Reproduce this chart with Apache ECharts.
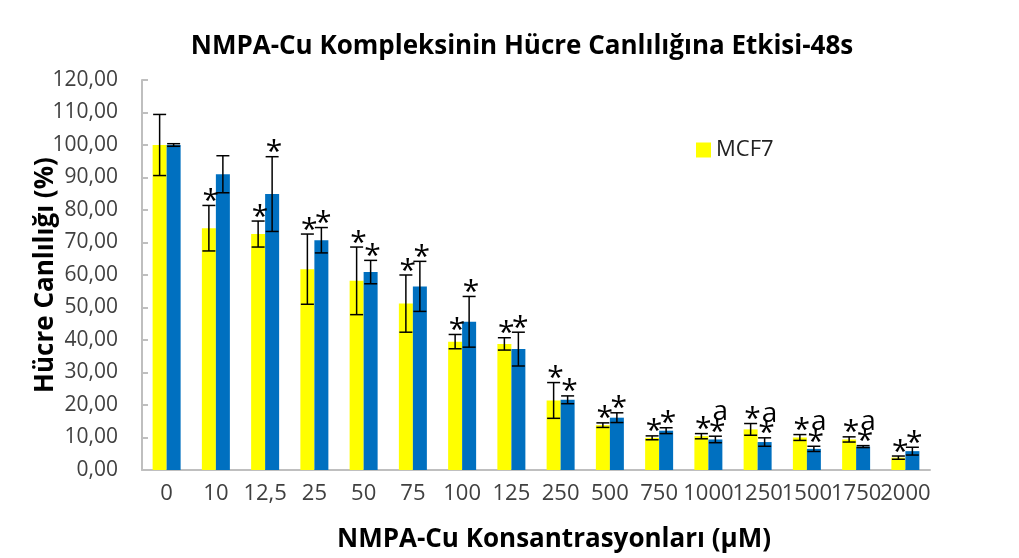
<!DOCTYPE html>
<html>
<head>
<meta charset="utf-8">
<script src="https://cdn.jsdelivr.net/npm/echarts@6/dist/echarts.min.js"></script>
<style>
  html, body { margin: 0; padding: 0; background: #fff; }
  #main { width: 1019px; height: 558px; }
</style>
</head>
<body>
<div id="main"></div>
<script>
var categories = ['0', '10', '12,5', '25', '50', '75', '100', '125', '250', '500', '750', '1000', '1250', '1500', '1750', '2000'];

// MCF7 (yellow)
var mcf7 = [100, 74.4, 72.6, 61.8, 58.2, 51.2, 39.5, 38.8, 21.4, 13.8, 9.9, 10.4, 12.5, 10.0, 9.4, 3.8];
var mcf7Err = [9.4, 7.0, 4.0, 10.8, 10.4, 8.8, 2.2, 1.9, 5.5, 0.7, 0.6, 0.8, 1.8, 0.9, 0.8, 0.5];
var mcf7Mark = ['', '*', '*', '*', '*', '*', '*', '*', '*', '*', '*', '*', '*', '*', '*', '*'];

// second series (blue)
var seri2 = [100, 91.0, 84.9, 70.7, 60.9, 56.5, 45.6, 37.2, 21.6, 16.1, 12.1, 9.4, 8.6, 6.5, 7.2, 5.8];
var seri2Err = [0.4, 5.7, 11.5, 3.9, 3.6, 7.7, 7.8, 5.2, 1.2, 1.5, 0.9, 1.0, 1.3, 0.8, 0.3, 1.2];
var seri2Mark = ['', '', '*', '*', '*', '*', '*', '*', '*', '*', '*', '*', '*', '*', '*', '*'];
var seri2Letter = ['', '', '', '', '', '', '', '', '', '', '', 'a', 'a', 'a', 'a', ''];

var yTicks = [0, 120, 10];

var FONT = 'Open Sans';
var BAR_W = 14;

var chartDom = document.getElementById('main');
var myChart = echarts.init(chartDom);

function errData(vals, errs, marks, letters) {
  return vals.map(function (v, i) {
    return [i, v, errs[i], marks[i], letters ? letters[i] : ''];
  });
}

var errYellow = errData(mcf7, mcf7Err, mcf7Mark, null);
var errBlue = errData(seri2, seri2Err, seri2Mark, seri2Letter);

// error bar + significance marks, drawn next to each bar
function errRender(offset, src) {
  return function (params, api) {
    var i = api.value(0);
    var v = api.value(1);
    var e = api.value(2);
    var d = src[params.dataIndex];
    var top = api.coord([i, v + e]);
    var bot = api.coord([i, v - e]);
    var x = top[0] + offset;
    var cap = 6.5;
    var ls = { stroke: '#000', lineWidth: 1.5 };
    var children = [
      { type: 'line', shape: { x1: x, y1: top[1], x2: x, y2: bot[1] }, style: ls },
      { type: 'line', shape: { x1: x - cap, y1: top[1], x2: x + cap, y2: top[1] }, style: ls },
      { type: 'line', shape: { x1: x - cap, y1: bot[1], x2: x + cap, y2: bot[1] }, style: ls }
    ];
    if (d[3]) {
      children.push({
        type: 'text',
        style: { text: d[3], x: x + 2, y: top[1] + 11, align: 'center', verticalAlign: 'bottom',
          font: '30px "' + FONT + '"', fill: '#000' }
      });
    }
    if (d[4]) {
      children.push({
        type: 'text',
        style: { text: d[4], x: x + 5, y: top[1] - 10, align: 'center', verticalAlign: 'bottom',
          font: '28px "' + FONT + '"', fill: '#000' }
      });
    }
    return { type: 'group', children: children };
  };
}

var option = {
  backgroundColor: '#fff',
  textStyle: { fontFamily: FONT },
  title: {
    text: 'NMPA-Cu Kompleksinin Hücre Canlılığına Etkisi-48s',
    left: 517,
    textAlign: 'center',
    top: 29,
    textStyle: { fontFamily: FONT, fontSize: 26, fontWeight: 'bold', color: '#000' }
  },
  legend: {
    data: ['MCF7'],
    left: 691,
    top: 134,
    itemWidth: 15,
    itemHeight: 15,
    icon: 'rect',
    itemGap: 10,
    textStyle: { fontFamily: FONT, fontSize: 22, color: '#222' }
  },
  grid: { left: 142, right: 89, top: 80, bottom: 88 },
  xAxis: [
    {
      type: 'category',
      data: categories,
      axisLine: { lineStyle: { color: '#bfbfbf', width: 2 } },
      axisTick: { inside: true, length: 6, alignWithLabel: false, lineStyle: { color: '#bfbfbf', width: 2 } },
      axisLabel: { interval: 0, fontFamily: FONT, fontSize: 22, color: '#404040', margin: 13 },
      name: 'NMPA-Cu Konsantrasyonları (µM)',
      nameLocation: 'middle',
      nameMoveOverlap: false,
      nameGap: 57,
      nameTextStyle: { fontFamily: FONT, fontSize: 26, fontWeight: 'bold', color: '#000', padding: [0, 0, 0, 36] }
    },
    {
      type: 'category',
      data: categories,
      position: 'bottom',
      axisLine: { show: false },
      axisTick: { length: 6, alignWithLabel: true, lineStyle: { color: '#bfbfbf', width: 2 } },
      axisLabel: { show: false }
    }
  ],
  yAxis: {
    type: 'value',
    min: yTicks[0],
    max: yTicks[1],
    interval: yTicks[2],
    splitLine: { show: false },
    axisLine: { show: true, lineStyle: { color: '#bfbfbf', width: 2 } },
    axisTick: { show: true, inside: true, length: 6, lineStyle: { color: '#bfbfbf', width: 2 } },
    axisLabel: {
      fontFamily: FONT, fontSize: 21, color: '#404040', margin: 24,
      formatter: function (v) { return v.toFixed(2).replace('.', ','); }
    },
    name: 'Hücre Canlılığı (%)',
    nameLocation: 'middle',
    nameMoveOverlap: false,
    nameGap: 83,
    nameTextStyle: { fontFamily: FONT, fontSize: 26, fontWeight: 'bold', color: '#000' }
  },
  series: [
    {
      name: 'MCF7',
      type: 'bar',
      data: mcf7,
      barWidth: BAR_W,
      barGap: '0%',
      itemStyle: { color: '#ffff00' },
      silent: true
    },
    {
      name: 'Seri 2',
      type: 'bar',
      data: seri2,
      barWidth: BAR_W,
      barGap: '0%',
      itemStyle: { color: '#0070c0' },
      silent: true
    },
    {
      type: 'custom',
      renderItem: errRender(-BAR_W / 2, errYellow),
      data: errYellow.map(function (d) { return [d[0], d[1], d[2]]; }),
      z: 5,
      silent: true
    },
    {
      type: 'custom',
      renderItem: errRender(BAR_W / 2, errBlue),
      data: errBlue.map(function (d) { return [d[0], d[1], d[2]]; }),
      z: 5,
      silent: true
    }
  ]
};

option && myChart.setOption(option);
</script>
</body>
</html>
